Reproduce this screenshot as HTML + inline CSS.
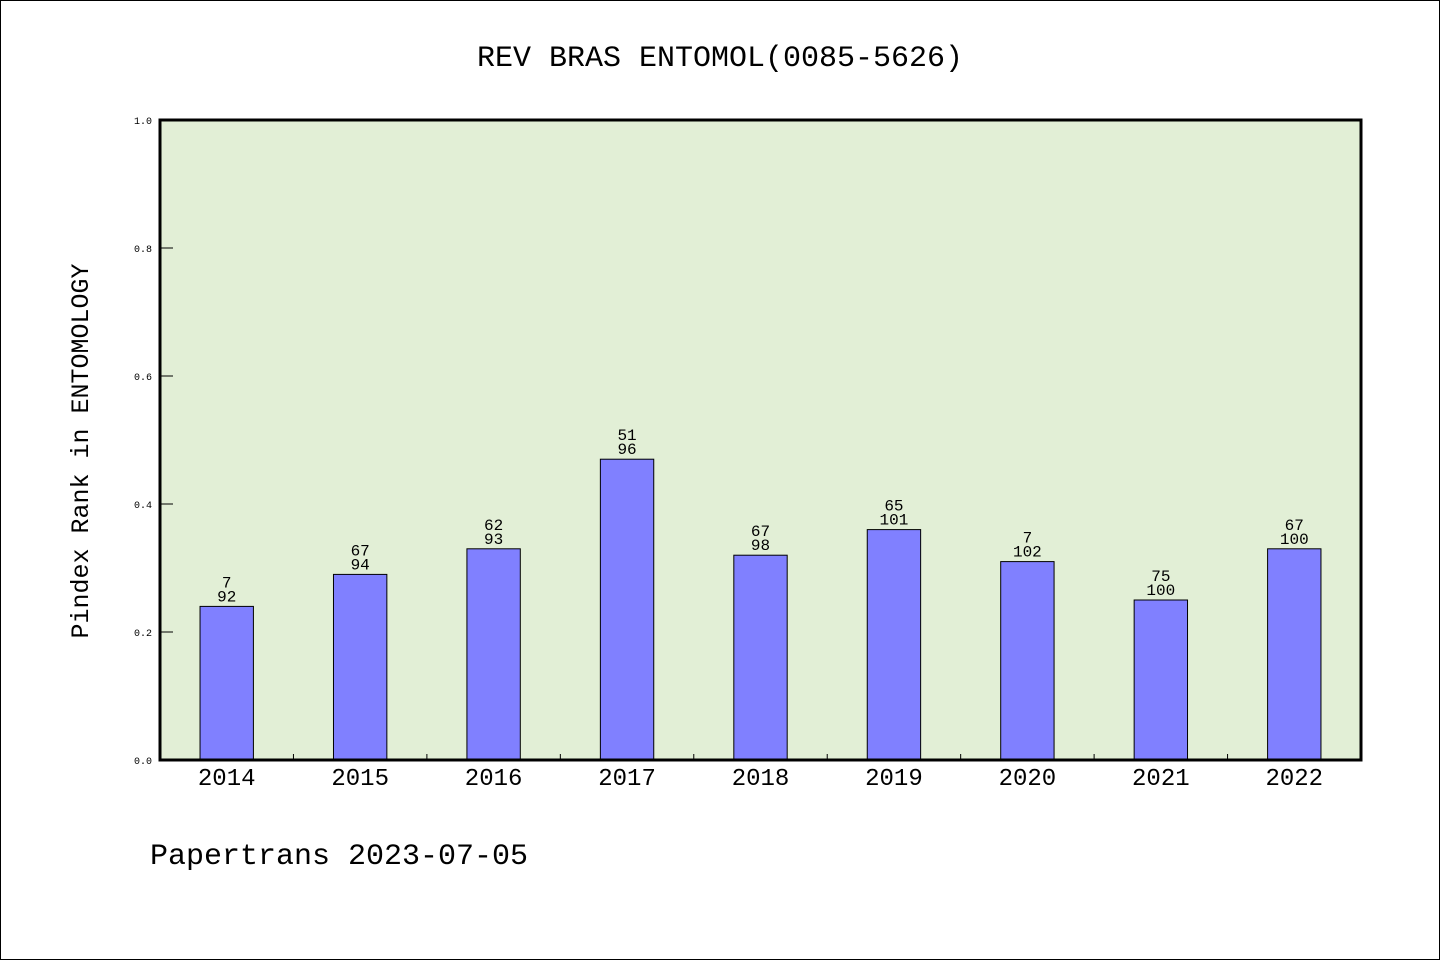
<!DOCTYPE html>
<html><head><meta charset="utf-8"><style>
body{margin:0;background:#fff}
svg{display:block}
text{font-family:"WenQuanYi Zen Hei Mono","Liberation Mono",monospace;fill:#000}
</style></head><body>
<svg id="c" width="1440" height="960">
<rect x="0.5" y="0.5" width="1439" height="959" fill="#fff" stroke="#000"/>
<text x="720" y="66" font-size="30" text-anchor="middle">REV BRAS ENTOMOL(0085-5626)</text>
<rect x="160" y="120" width="1201" height="640" fill="#e2efd6"/>
<g id="bars"></g>
<rect x="160" y="120" width="1201" height="640" fill="none" stroke="#000" stroke-width="3"/>
<g id="axes"></g>
<text transform="translate(88,451) rotate(-90)" font-size="25" text-anchor="middle">Pindex Rank in ENTOMOLOGY</text>
<text x="150" y="864" font-size="30">Papertrans 2023-07-05</text>
</svg>
<script>
const categories=["2014","2015","2016","2017","2018","2019","2020","2021","2022"];
const values=[0.24,0.29,0.33,0.47,0.32,0.36,0.31,0.25,0.33];
const topLabels=["7","67","62","51","67","65","7","75","67"];
const bottomLabels=["92","94","93","96","98","101","102","100","100"];
const yTicks=[0,0.2,0.4,0.6,0.8,1.0];
const NS="http://www.w3.org/2000/svg";
const X0=160,W=1201,Y0=760,H=640;
const band=W/categories.length;
const y=v=>Y0-v*H;
const xc=i=>X0+band*(i+0.5);
function mk(t,a,p){const e=document.createElementNS(NS,t);for(const k in a)e.setAttribute(k,a[k]);p.appendChild(e);return e;}
const bars=document.getElementById('bars'),axes=document.getElementById('axes');
values.forEach((v,i)=>{
 const bw=band*0.4;
 const r=mk('rect',{x:xc(i)-bw/2,y:y(v),width:bw,height:Y0-y(v),fill:'#8080ff',stroke:'#000','stroke-width':1},bars);
 
 
 const t1=mk('text',{x:xc(i),y:y(v)-5,'font-size':16,'text-anchor':'middle'},bars);t1.textContent=bottomLabels[i];
 
 
 const t2=mk('text',{x:xc(i),y:y(v)-19,'font-size':16,'text-anchor':'middle'},bars);t2.textContent=topLabels[i];
 
 
 const xl=mk('text',{x:xc(i),y:785,'font-size':24,'text-anchor':'middle'},axes);xl.textContent=categories[i];
 
 
 if(i>0){const tk=mk('line',{x1:X0+band*i,x2:X0+band*i,y1:Y0,y2:Y0-6,stroke:'#000'},axes);
 
 }
});
yTicks.forEach(v=>{
 const tk=mk('line',{x1:X0,x2:X0+13,y1:y(v),y2:y(v),stroke:'#000'},axes);
 
 
 const l=mk('text',{x:152,y:y(v)+4,'font-size':10,'text-anchor':'end'},axes);l.textContent=v.toFixed(1);
 
 
});
</script>
</body></html>
